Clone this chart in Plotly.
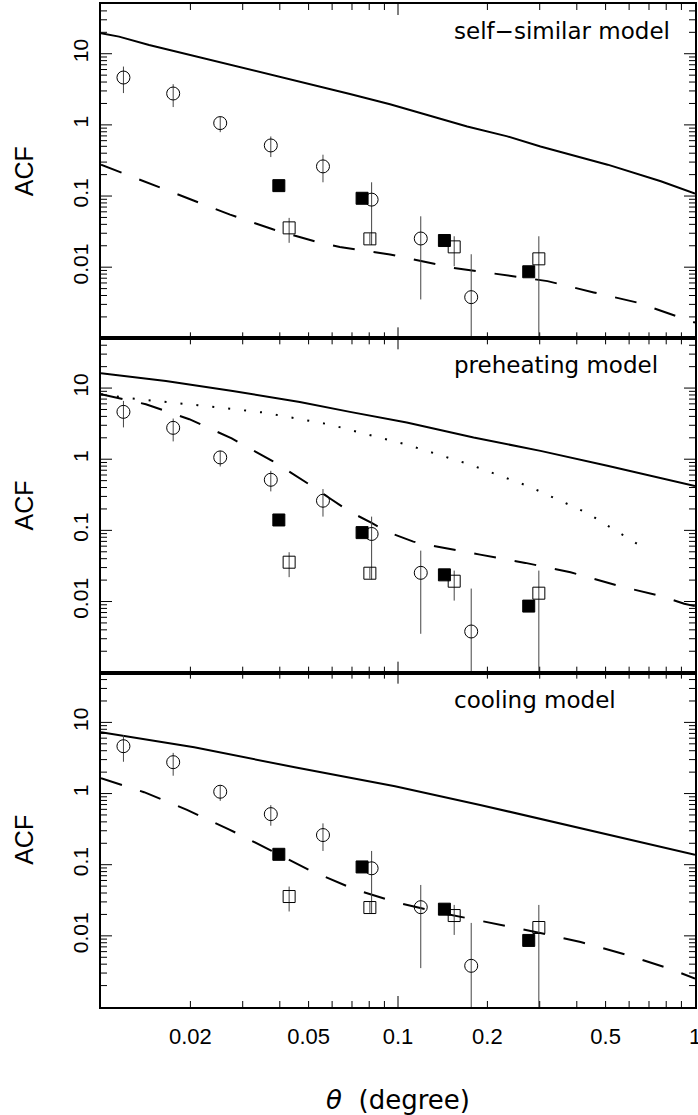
import math
import plotly.graph_objects as go

# ---------------- data ----------------
# observed points (identical in all three panels)
theta_circ = [0.0119, 0.0175, 0.0252, 0.0373, 0.0559, 0.0815, 0.1193, 0.1764]
acf_circ = [4.63, 2.76, 1.06, 0.514, 0.261, 0.089, 0.0253, 0.00379]
circ_hi = [6.6, 3.73, 1.31, 0.687, 0.381, 0.156, 0.0519, 0.0152]
circ_lo = [2.8, 1.78, 0.79, 0.353, 0.156, 0.0205, 0.00352, 0.0001]

theta_osq = [0.0430, 0.0804, 0.1546, 0.298]
acf_osq = [0.0357, 0.025, 0.0193, 0.0131]
osq_hi = [0.0493, 0.030, 0.0272, 0.0272]
osq_lo = [0.022, 0.021, 0.0103, 0.0001]

theta_fsq = [0.0397, 0.0757, 0.1433, 0.2755]
acf_fsq = [0.140, 0.093, 0.0237, 0.00862]

# model curves
ss_solid_x = [0.01, 0.0115, 0.01452, 0.01883, 0.02317, 0.0308, 0.041, 0.0531,
              0.0689, 0.094, 0.1187, 0.171, 0.2335, 0.3018, 0.508, 0.7674, 1.0]
ss_solid_y = [19.4, 17.4, 13.3, 10.2, 8.2, 6.27, 4.69, 3.54,
              2.71, 1.95, 1.48, 0.95, 0.689, 0.498, 0.276, 0.161, 0.108]
ss_dash_x = [0.01, 0.01387, 0.01942, 0.0272, 0.0381, 0.0536, 0.0637, 0.094,
             0.1534, 0.2212, 0.3187, 0.456, 0.642, 0.897, 1.0]
ss_dash_y = [0.276, 0.164, 0.0959, 0.0548, 0.0338, 0.0225, 0.0192, 0.0151,
             0.00981, 0.0079, 0.00637, 0.00442, 0.00317, 0.00195, 0.00166]

ph_solid_x = [0.01, 0.01654, 0.02777, 0.0467, 0.0689, 0.107, 0.1797, 0.3018,
              0.507, 0.851, 1.0]
ph_solid_y = [16.1, 12.6, 9.12, 6.39, 4.63, 3.29, 2.02, 1.31, 0.809, 0.498, 0.42]
ph_dot_x = [0.01, 0.01276, 0.02115, 0.0351, 0.0581, 0.1056, 0.1728, 0.2755,
            0.434, 0.666]
ph_dot_y = [8.2, 7.13, 5.74, 4.54, 3.11, 1.63, 0.855, 0.416, 0.175, 0.058]
ph_dash_x = [0.01, 0.0119, 0.01416, 0.01983, 0.02755, 0.0377, 0.0511, 0.0594,
             0.0689, 0.0815, 0.094, 0.1126, 0.1334, 0.189, 0.2685, 0.381,
             0.548, 0.778, 0.92, 1.0]
ph_dash_y = [8.2, 6.97, 5.93, 3.65, 1.96, 0.95, 0.424, 0.276, 0.183, 0.127,
             0.092, 0.0695, 0.0599, 0.0456, 0.0349, 0.0258, 0.01675, 0.01175,
             0.00929, 0.0086]

co_solid_x = [0.01, 0.0206, 0.0449, 0.0977, 0.189, 0.412, 1.0]
co_solid_y = [7.25, 4.46, 2.34, 1.27, 0.692, 0.327, 0.138]
co_dash_x = [0.01, 0.01397, 0.01948, 0.02706, 0.0374, 0.0511, 0.0716, 0.1002,
             0.1441, 0.2045, 0.2903, 0.412, 0.585, 0.819, 1.0]
co_dash_y = [1.64, 1.045, 0.589, 0.312, 0.158, 0.0813, 0.0449, 0.029, 0.0205,
             0.0152, 0.01135, 0.0082, 0.00545, 0.00347, 0.0025]

panel_titles = ["self\u2212similar model", "preheating model", "cooling model"]
x_tickvals = [0.02, 0.05, 0.1, 0.2, 0.5, 1]
x_ticktext = ["0.02", "0.05", "0.1", "0.2", "0.5", "1"]
y_tickvals = [0.01, 0.1, 1, 10]
y_ticktext = ["0.01", "0.1", "1", "10"]
x_major_ticks = [0.1]
x_minor_ticks = [k * 10.0 ** e for e in (-2, -1) for k in range(2, 10)]
y_major_ticks = [0.01, 0.1, 1, 10]
y_minor_ticks = [k * 10.0 ** e for e in (-3, -2, -1, 0, 1) for k in range(2, 10)
                 if k * 10.0 ** e < 50]

# ---------------- styles / geometry ----------------
W, H = 698, 1115
MARGIN = dict(l=101, r=3, t=4, b=108)
PLOT_W = W - MARGIN["l"] - MARGIN["r"]
PANEL_H = (H - MARGIN["t"] - MARGIN["b"]) / 3
X_RANGE = [-2, 0]
Y_RANGE = [-3, math.log10(50)]
DOMAINS = [[2 / 3, 1], [1 / 3, 2 / 3], [0, 1 / 3]]
MAJOR_LEN, MINOR_LEN = 11, 6

SOLID = dict(color="black", width=2)
DASH = dict(color="black", width=2, dash="22px,19px")
DOT = dict(color="black", width=2, dash="2px,14px")
EB = dict(type="data", symmetric=False, color="#444", thickness=1, width=0)
TICKFONT = dict(family="Liberation Sans, Arial, sans-serif", size=21, color="black")
TICKLINE = dict(color="black", width=1)

panels = [
    [(ss_solid_x, ss_solid_y, SOLID), (ss_dash_x, ss_dash_y, DASH)],
    [(ph_solid_x, ph_solid_y, SOLID), (ph_dot_x, ph_dot_y, DOT),
     (ph_dash_x, ph_dash_y, DASH)],
    [(co_solid_x, co_solid_y, SOLID), (co_dash_x, co_dash_y, DASH)],
]


def ref(letter, n):
    return letter if n == 1 else f"{letter}{n}"


fig = go.Figure()
layout = {}
shapes = []

for p, curves in enumerate(panels):
    n = p + 1
    xr, yr = ref("x", n), ref("y", n)
    for cx, cy, ln in curves:
        fig.add_trace(go.Scatter(x=cx, y=cy, mode="lines", line=ln, xaxis=xr,
                                 yaxis=yr, showlegend=False, hoverinfo="skip"))
    fig.add_trace(go.Scatter(
        x=theta_circ, y=acf_circ, mode="markers", xaxis=xr, yaxis=yr,
        marker=dict(symbol="circle-open", size=13, color="black",
                    line=dict(width=1, color="black")),
        error_y=dict(EB, array=[h - v for h, v in zip(circ_hi, acf_circ)],
                     arrayminus=[v - l for v, l in zip(acf_circ, circ_lo)]),
        showlegend=False, hoverinfo="skip"))
    fig.add_trace(go.Scatter(
        x=theta_osq, y=acf_osq, mode="markers", xaxis=xr, yaxis=yr,
        marker=dict(symbol="square-open", size=12, color="black",
                    line=dict(width=1, color="black")),
        error_y=dict(EB, array=[h - v for h, v in zip(osq_hi, acf_osq)],
                     arrayminus=[v - l for v, l in zip(acf_osq, osq_lo)]),
        showlegend=False, hoverinfo="skip"))
    fig.add_trace(go.Scatter(
        x=theta_fsq, y=acf_fsq, mode="markers", xaxis=xr, yaxis=yr,
        marker=dict(symbol="square", size=12, color="black",
                    line=dict(width=1, color="black")),
        showlegend=False, hoverinfo="skip"))

    xa = dict(type="log", range=X_RANGE, anchor=yr, showline=True,
              linecolor="black", linewidth=2, mirror=True, ticks="",
              showgrid=False, automargin=False, tickmode="array",
              tickvals=x_tickvals, ticktext=x_ticktext,
              showticklabels=(p == 2))
    if p == 2:
        xa.update(tickfont=dict(TICKFONT, size=22), ticklabelstandoff=9,
                  ticklabeloverflow="allow",
                  title=dict(text="<i>\u03b8</i>\u00a0\u00a0(degree)", standoff=45,
                             font=dict(family="DejaVu Sans, sans-serif", size=26,
                                       color="black")))
    layout["xaxis" if n == 1 else f"xaxis{n}"] = xa
    layout["yaxis" if n == 1 else f"yaxis{n}"] = dict(
        type="log", range=Y_RANGE, domain=DOMAINS[p], anchor=xr,
        showline=True, linecolor="black", linewidth=2, mirror=True, ticks="",
        showgrid=False, automargin=False, tickmode="array",
        tickvals=y_tickvals, ticktext=y_ticktext, tickangle=-90,
        tickfont=TICKFONT, ticklabelstandoff=3,
        title=dict(text="ACF", standoff=28,
                   font=dict(family="Liberation Sans, Arial, sans-serif",
                             size=25, color="black")))

    # inward tick marks on all four sides (positions from the tick lists)
    xd, yd = f"{xr} domain", f"{yr} domain"
    for vals, length in [(x_major_ticks, MAJOR_LEN), (x_minor_ticks, MINOR_LEN)]:
        h = length / PANEL_H
        for v in vals:
            f = (math.log10(v) - X_RANGE[0]) / (X_RANGE[1] - X_RANGE[0])
            shapes.append(dict(type="line", xref=xd, yref=yd, x0=f, x1=f,
                               y0=0, y1=h, line=TICKLINE, layer="above"))
            shapes.append(dict(type="line", xref=xd, yref=yd, x0=f, x1=f,
                               y0=1, y1=1 - h, line=TICKLINE, layer="above"))
    for vals, length in [(y_major_ticks, MAJOR_LEN), (y_minor_ticks, MINOR_LEN)]:
        w = length / PLOT_W
        for v in vals:
            f = (math.log10(v) - Y_RANGE[0]) / (Y_RANGE[1] - Y_RANGE[0])
            shapes.append(dict(type="line", xref=xd, yref=yd, x0=0, x1=w,
                               y0=f, y1=f, line=TICKLINE, layer="above"))
            shapes.append(dict(type="line", xref=xd, yref=yd, x0=1, x1=1 - w,
                               y0=f, y1=f, line=TICKLINE, layer="above"))

fig.update_layout(
    width=W, height=H, margin=MARGIN,
    paper_bgcolor="white", plot_bgcolor="white",
    showlegend=False, shapes=shapes, **layout,
)

for i, t in enumerate(panel_titles):
    fig.add_annotation(text=t, xref="paper", x=0.591, xanchor="left",
                       yref=f"{ref('y', i + 1)} domain", y=0.919,
                       yanchor="middle", showarrow=False,
                       font=dict(family="DejaVu Sans, sans-serif", size=23,
                                 color="black"))

fig.write_html("out.html")
